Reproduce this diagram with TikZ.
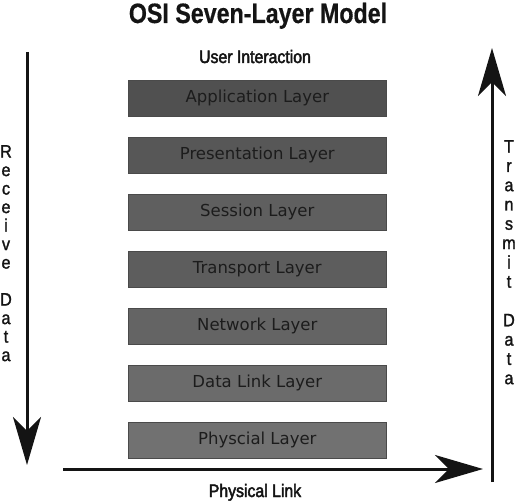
\documentclass[tikz,border=0pt]{standalone}
\usepackage{fontspec}
\setmainfont{DejaVu Sans}
\newfontfamily\condfont[FakeStretch=0.9,FakeBold=1.5]{Liberation Sans}
\newfontfamily\labelfont[FakeStretch=0.88,FakeBold=2.5]{Liberation Sans}
\newfontfamily\headfont[FakeStretch=0.83,FakeBold=0.5]{Liberation Sans Bold}
\usetikzlibrary{arrows.meta}
\definecolor{ink}{HTML}{141414}
\definecolor{boxtext}{HTML}{1C1C1C}
\definecolor{boxedge}{HTML}{4A4A4A}
\definecolor{cA}{HTML}{505050}
\definecolor{cB}{HTML}{575757}
\definecolor{cC}{HTML}{5F5F5F}
\definecolor{cD}{HTML}{5D5D5D}
\definecolor{cE}{HTML}{646464}
\definecolor{cF}{HTML}{6B6B6B}
\definecolor{cG}{HTML}{717171}
\begin{document}
\begin{tikzpicture}[x=1pt,y=-1pt,
  layerbox/.style={draw=boxedge, line width=0.6pt, minimum width=258pt,
    minimum height=36pt, inner sep=0pt, anchor=north west,
    text=boxtext, text height=12.5pt, text depth=3.9pt,
    font=\fontsize{16.5}{18}\selectfont},
  bigarrow/.style={draw=ink, line width=3pt,
    -{Stealth[length=48pt,width=28pt,inset=14pt]}},
  vtext/.style={text=ink, align=center, inner sep=0pt, anchor=north},
  headtext/.style={text=ink, inner sep=0pt, anchor=base}]
\path[use as bounding box] (0,0) rectangle (520,503);

% title and labels
\node[headtext, font=\headfont\fontsize{28}{30}\selectfont] (title) at (258,23) {OSI Seven-Layer Model};
\node[headtext, font=\labelfont\fontsize{18}{20}\selectfont] (user) at (255,63) {User Interaction};
\node[headtext, font=\labelfont\fontsize{18}{20}\selectfont] (plink) at (255,497) {Physical Link};

% layer boxes
\node[layerbox, fill=cA] (app)   at (128,80)  {Application Layer};
\node[layerbox, fill=cB] (pres)  at (128,137) {Presentation Layer};
\node[layerbox, fill=cC] (sess)  at (128,194) {Session Layer};
\node[layerbox, fill=cD] (trans) at (128,251) {Transport Layer};
\node[layerbox, fill=cE] (net)   at (128,308) {Network Layer};
\node[layerbox, fill=cF] (dl)    at (128,365) {Data Link Layer};
\node[layerbox, fill=cG] (phys)  at (128,422) {Physcial Layer};

% arrows
\coordinate (rtop) at (27,52);
\coordinate (rbot) at (27,465);
\draw[bigarrow] (rtop) -- (rbot);
\coordinate (tbot) at (492,482);
\coordinate (ttop) at (492,48);
\draw[bigarrow] (tbot) -- (ttop);
\coordinate (lstart) at (63,469);
\coordinate (lend) at (483,469);
\draw[bigarrow] (lstart) -- (lend);

% vertical texts
\node[vtext, font=\condfont\fontsize{18}{18.5}\selectfont] (recv) at (6,145)
  {R\\e\\c\\e\\i\\v\\e\\[18.5pt]D\\a\\t\\a};
\node[vtext, font=\condfont\fontsize{18}{19.3}\selectfont] (trx) at (509,140)
  {T\\r\\a\\n\\s\\m\\i\\t\\[19.3pt]D\\a\\t\\a};
\end{tikzpicture}
\end{document}
